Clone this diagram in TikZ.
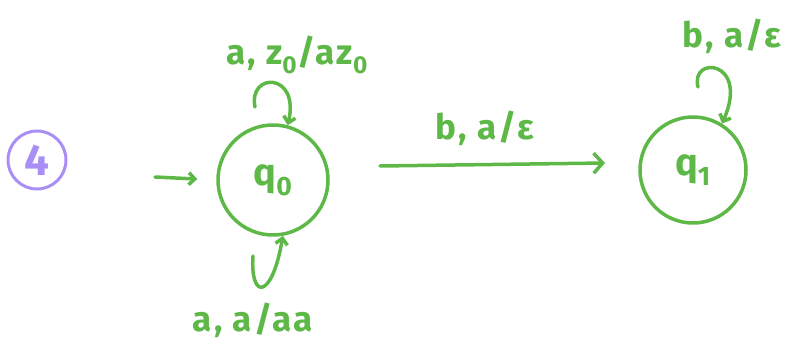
\documentclass[tikz,border=0pt]{standalone}
\usepackage{fontspec}
\setmainfont{Fira Sans}[LetterSpace=6]
\usetikzlibrary{arrows.meta}
\definecolor{pen}{HTML}{5DB848}
\definecolor{lav}{HTML}{A98EF6}
\begin{document}
\begin{tikzpicture}[x=1pt,y=-1pt, line cap=round, line join=round,
  ink/.style={draw=pen, line width=3.5pt},
  state/.style={circle, ink, minimum size=110pt, inner sep=0pt, font=\fontsize{38}{38}\selectfont\bfseries, text=pen},
  lbl/.style={text=pen, font=\fontsize{35}{35}\selectfont\bfseries, inner sep=0pt},
  arr/.style={ink, -{Straight Barb[length=9pt,width=20pt,line width=3.5pt]}},
  sarr/.style={ink, -{Straight Barb[length=6pt,width=12pt,line width=3.5pt]}}]
\useasboundingbox (0,0) rectangle (794,358);
% page number mark
\node[circle, draw=lav, line width=3pt, minimum size=58pt, inner sep=0pt, text=lav,
      font=\fontsize{44}{44}\selectfont\bfseries] (pg) at (37,160) {4};
% states
\node[state] (q0) at (273,180) {q\textsubscript{0}};
\node[state, minimum size=106pt] (q1) at (693,170) {q\textsubscript{1}};
% start arrow
\coordinate (st) at (155,177);
\draw[sarr, shorten >=19pt] (st) -- (q0.west);
% transition q0 -> q1
\coordinate (t0) at (380,166);
\coordinate (t1) at (605,163);
\draw[arr] (t0) -- (t1);
\node[lbl] (l01) at (485,128) {b, a/ε};
% loop top of q0
\coordinate (a0) at (255,107);
\draw[sarr] (a0) .. controls (248,72) and (300,72) .. (q0.75);
\node[lbl] (lq0a) at (297,55) {a, z\textsubscript{0}/az\textsubscript{0}};
% loop bottom of q0
\coordinate (b0) at (253,256);
\draw[sarr] (b0) .. controls (250,300) and (272,300) .. (q0.-80);
\node[lbl] (lq0b) at (253,320) {a, a/aa};
% loop on q1
\coordinate (c0) at (698,87);
\draw[sarr] (c0) .. controls (690,55) and (750,60) .. (q1.58);
\node[lbl] (lq1) at (732,36) {b, a/ε};
\end{tikzpicture}
\end{document}
